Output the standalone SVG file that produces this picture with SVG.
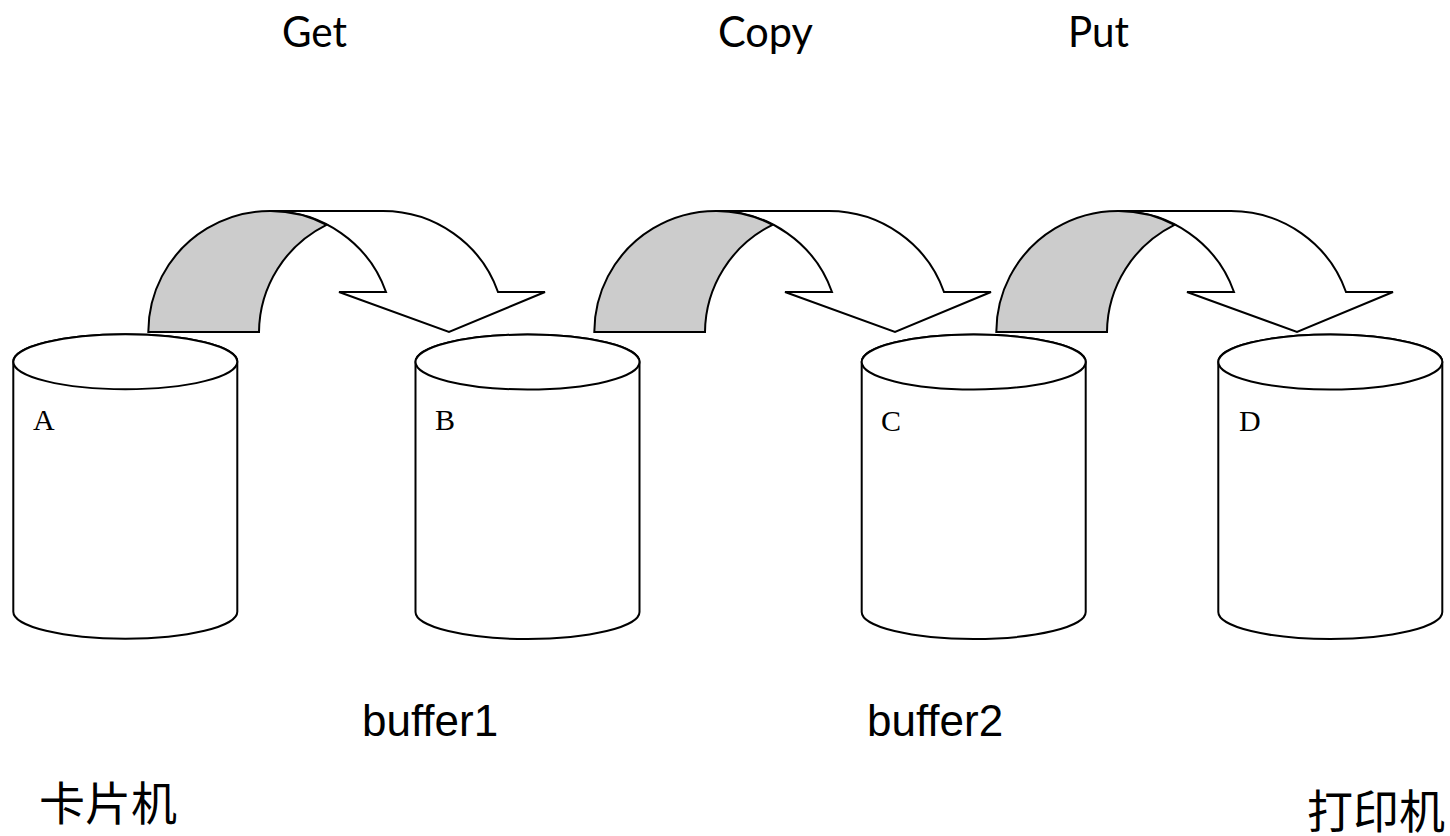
<svg xmlns="http://www.w3.org/2000/svg" width="1450" height="836" viewBox="0 0 1450 836">
  <style>
    .shape { fill: #ffffff; stroke: #000000; stroke-width: 2; stroke-linejoin: miter; }
    .back { fill: #cccccc; stroke: #000000; stroke-width: 2; }
    .op { font-family: Lato, "Open Sans", sans-serif; font-size: 42px; fill: #000; }
    .tag { font-family: "Liberation Serif", serif; font-size: 30px; fill: #000; }
    .buf { font-family: "Liberation Sans", Arial, sans-serif; font-size: 44px; fill: #000; }
    .dev { font-family: "Liberation Serif", "Noto Sans CJK SC", serif; font-size: 46px; fill: #000; }
  </style>
  <defs>
    <!-- drum: body outline plus top lid ellipse -->
    <g id="drum">
      <path class="shape" d="M -112 0 L -112 250 A 112 27 0 0 0 112 250 L 112 0 A 112 27.5 0 0 0 -112 0 Z"/>
      <ellipse class="shape" cx="0" cy="0" rx="112" ry="27.5"/>
    </g>
    <!-- curved down arrow: white front band with arrowhead, grey back of the tail -->
    <g id="curved-arrow">
      <path class="shape" d="M 270 211 L 383 211 A 122 121 0 0 1 498 292 L 545 292 L 449 332 L 339 292 L 386 292 A 122 121 0 0 0 270 211 Z"/>
      <path class="back" d="M 148.3 332 A 121.7 121 0 0 1 326.5 224.8 A 122 121 0 0 0 259 332 Z"/>
    </g>
  </defs>

  <!-- operation labels -->
  <text class="op" x="282" y="47" textLength="65" lengthAdjust="spacingAndGlyphs">Get</text>
  <text class="op" x="718" y="47" textLength="95" lengthAdjust="spacingAndGlyphs">Copy</text>
  <text class="op" x="1068" y="47" textLength="61" lengthAdjust="spacingAndGlyphs">Put</text>

  <!-- storage drums -->
  <g id="node-A">
    <use href="#drum" x="125.3" y="361.7"/>
    <text class="tag" x="33" y="430">A</text>
  </g>
  <g id="node-B">
    <use href="#drum" x="527.5" y="362"/>
    <text class="tag" x="435" y="430">B</text>
  </g>
  <g id="node-C">
    <use href="#drum" x="973.7" y="362"/>
    <text class="tag" x="881" y="431">C</text>
  </g>
  <g id="node-D">
    <use href="#drum" x="1330.3" y="362"/>
    <text class="tag" x="1239" y="431">D</text>
  </g>

  <!-- transfer arrows between drums -->
  <g id="connectors">
    <use href="#curved-arrow" x="0" y="0"/>
    <use href="#curved-arrow" x="446" y="0"/>
    <use href="#curved-arrow" x="848" y="0"/>
  </g>

  <!-- buffer labels -->
  <text class="buf" x="362" y="736">buffer1</text>
  <text class="buf" x="867" y="736">buffer2</text>

  <!-- device labels -->
  <text class="dev" x="39" y="820" textLength="138" lengthAdjust="spacingAndGlyphs">卡片机</text>
  <text class="dev" x="1307" y="828" textLength="138" lengthAdjust="spacingAndGlyphs">打印机</text>
</svg>
